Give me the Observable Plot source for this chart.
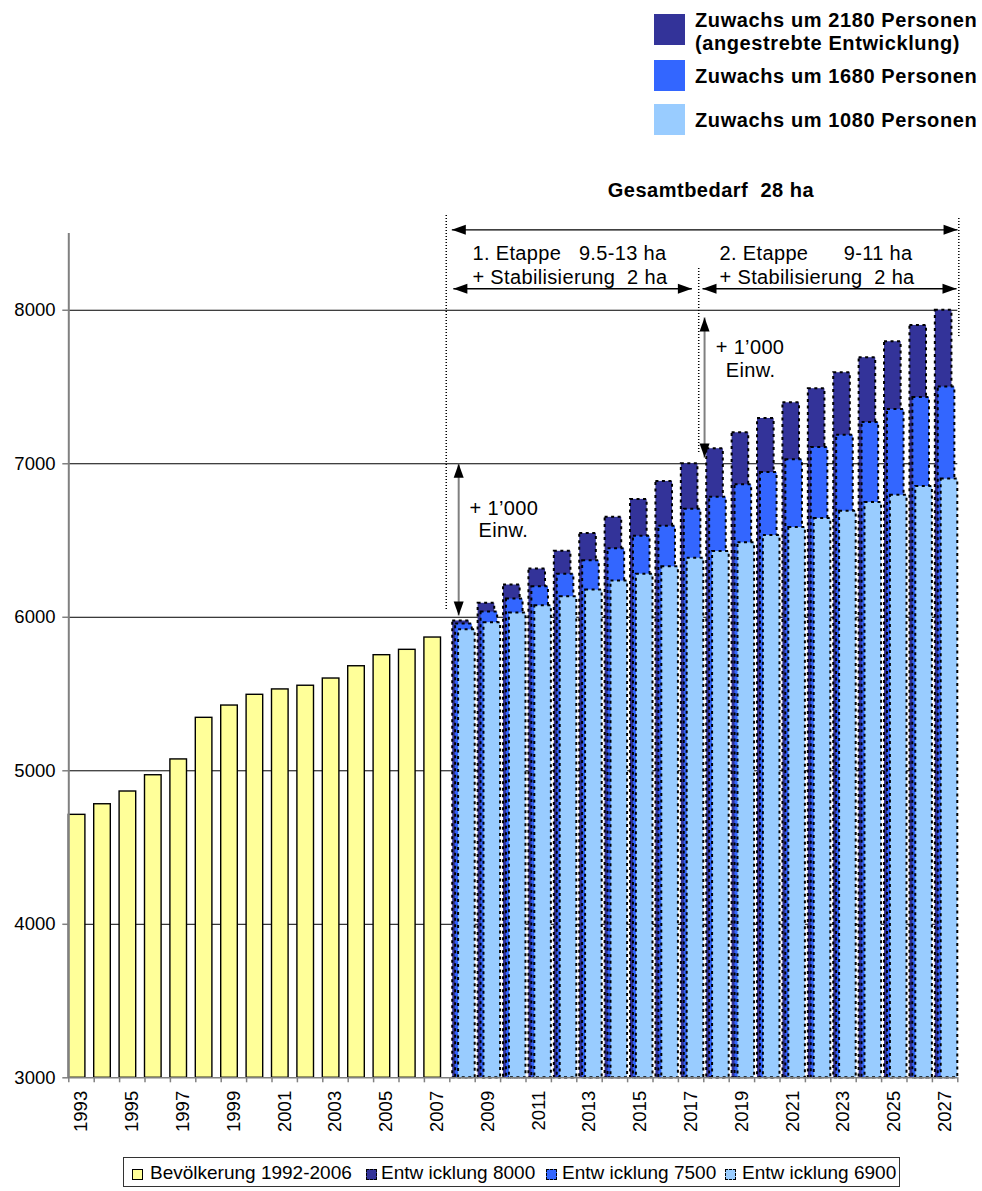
<!DOCTYPE html>
<html>
<head>
<meta charset="utf-8">
<script src="https://cdn.jsdelivr.net/npm/d3@7"></script>
<script src="https://cdn.jsdelivr.net/npm/@observablehq/plot@0.6"></script>
<style>
  body { margin: 0; background: #fff; }
  #wrap { position: relative; width: 982px; height: 1191px; overflow: hidden;
          font-family: "Liberation Sans", Arial, sans-serif; color: #000; }
  #chart { position: absolute; left: 0; top: 0; }
  svg text { white-space: pre; }
  g[aria-description="annot"] text { letter-spacing: 0.35px; }
  g[aria-description="heading"] text { letter-spacing: 0.5px; }
  .tsq { position: absolute; width: 31px; height: 31px; }
  .tlab { position: absolute; left: 695px; font-weight: bold; font-size: 20px; letter-spacing: 0.6px;
          line-height: 23px; white-space: nowrap; }
  #bottomLegend { position: absolute; left: 123px; top: 1157px; width: 777px; height: 30px;
                  border: 1px solid #333; box-sizing: border-box; }
  .bsq { position: absolute; width: 9px; height: 9px; top: 11px; border: 1px solid #000; }
  .blab { position: absolute; top: 4px; font-size: 19px; line-height: 22px; white-space: pre; }
</style>
</head>
<body>
<div id="wrap">
  <div id="chart"></div>
  <div id="topLegend"></div>
  <div id="bottomLegend"></div>
</div>
<script>
// ---------- data ----------
const histYears = [1993, 1994, 1995, 1996, 1997, 1998, 1999, 2000, 2001, 2002, 2003, 2004, 2005, 2006, 2007];
const population = [4713, 4782, 4865, 4971, 5074, 5345, 5425, 5495, 5530, 5554, 5601, 5681, 5753, 5788, 5868];

const projYears = [2008, 2009, 2010, 2011, 2012, 2013, 2014, 2015, 2016, 2017,
                   2018, 2019, 2020, 2021, 2022, 2023, 2024, 2025, 2026, 2027];
const entw8000 = [5976, 6091, 6210, 6314, 6430, 6545, 6651, 6768, 6885, 7000,
                  7098, 7202, 7295, 7397, 7489, 7593, 7691, 7795, 7901, 8000];
const entw7500 = [5956, 6034, 6119, 6199, 6281, 6368, 6446, 6528, 6593, 6703,
                  6782, 6863, 6943, 7026, 7106, 7186, 7269, 7354, 7432, 7500];
const entw6900 = [5918, 5965, 6028, 6075, 6134, 6177, 6236, 6281, 6329, 6385,
                  6429, 6485, 6533, 6585, 6644, 6691, 6748, 6795, 6852, 6900];

const yTicks = [3000, 4000, 5000, 6000, 7000, 8000];
const gridValues = [4000, 5000, 6000, 7000, 8000];
const xTickLabels = [1993, 1995, 1997, 1999, 2001, 2003, 2005, 2007, 2009, 2011,
                     2013, 2015, 2017, 2019, 2021, 2023, 2025, 2027];

const seriesNames = ["Bevölkerung 1992-2006", "Entw icklung 8000", "Entw icklung 7500", "Entw icklung 6900"];
const seriesColors = ["#FFFF99", "#333399", "#3366FF", "#99CCFF"];

const topLegendLabels = [["Zuwachs um 2180 Personen", "(angestrebte Entwicklung)"],
                         ["Zuwachs um 1680 Personen"],
                         ["Zuwachs um 1080 Personen"]];
const topLegendColors = ["#333399", "#3366FF", "#99CCFF"];

// annotations (year / inhabitants coordinates)
const guideLines = [
  {x: 2007.36, top: 8617, bottom: 6044},
  {x: 2017.30, top: 8272, bottom: 7060},
  {x: 2027.54, top: 8598, bottom: 7825}
];
const spanArrows = [
  {from: 2007.58, to: 2027.49, level: 8524},
  {from: 2007.64, to: 2017.03, level: 8140},
  {from: 2017.45, to: 2027.45, level: 8140}
];
const growthArrows = [
  {x: 2007.85, top: 7000, bottom: 6012},
  {x: 2017.53, top: 7953, bottom: 7040}
];
const headings = [{x: 2017.78, y: 8780, text: "Gesamtbedarf  28 ha"}];
const stageLabels = [
  {x: 2008.39, y: 8370, text: "1. Etappe   9.5-13 ha"},
  {x: 2008.39, y: 8213, text: "+ Stabilisierung  2 ha"},
  {x: 2018.12, y: 8370, text: "2. Etappe      9-11 ha"},
  {x: 2018.12, y: 8213, text: "+ Stabilisierung  2 ha"}
];
const growthLabels = [
  {x: 2009.63, y: 6708, text: "+ 1’000"}, {x: 2009.61, y: 6565, text: "Einw."},
  {x: 2019.32, y: 7757, text: "+ 1’000"}, {x: 2019.34, y: 7607, text: "Einw."}
];

// ---------- layout constants ----------
const CAT = 25.4, BAR_W = 16.6, SHIFT = 2.93;
const BASE = yTicks[0];
const allYears = histYears.concat(projYears);
const boundaries = [allYears[0] - 0.5].concat(allYears.map(y => y + 0.5));
const FONT = "'Liberation Sans', Arial, sans-serif";

function bars(years, values, i) {
  const data = years.map((year, k) => ({year, v: values[k], series: seriesNames[i]}));
  return Plot.rectY(data, {
    x1: d => d.year - 0.5, x2: d => d.year + 0.5, y1: d => BASE, y2: "v",
    insetLeft: i * SHIFT, insetRight: Math.max(0, CAT - BAR_W - i * SHIFT),
    fill: seriesColors[i], stroke: "#000",
    strokeWidth: i === 0 ? 1.4 : 2,
    strokeDasharray: i === 0 ? null : "3,3.5"
  });
}

const headSymbol = {draw(ctx) { ctx.moveTo(0, 0); ctx.lineTo(5, 14); ctx.lineTo(-5, 14); ctx.closePath(); }};

const chart = Plot.plot({
  width: 982, height: 1191,
  marginLeft: 68.3, marginRight: 24.7, marginTop: 233, marginBottom: 113.7,
  style: {fontFamily: FONT, background: "transparent", overflow: "visible", color: "#000"},
  x: {type: "linear", domain: [1992.5, 2027.5]},
  y: {domain: [3000, 8500]},
  marks: [
    Plot.ruleY(gridValues, {y: d => d, stroke: "#000", strokeWidth: 1}),
    bars(histYears, population, 0),
    bars(projYears, entw8000, 1),
    bars(projYears, entw7500, 2),
    bars(projYears, entw6900, 3),
    Plot.ruleX([boundaries[0]], {x: d => d, y1: d => BASE, y2: d => 8500, stroke: "#808080", strokeWidth: 2}),
    Plot.ruleY([BASE], {y: d => d, stroke: "#808080", strokeWidth: 1.5}),
    Plot.axisY({ticks: yTicks, tickSize: 0, tickPadding: 13.3, fontSize: 18.5, tickFormat: d => String(d)}),
    Plot.axisY({ticks: yTicks, tickSize: 6, tickFormat: () => "", stroke: "#808080", strokeWidth: 1.5}),
    Plot.axisX({ticks: xTickLabels, tickSize: 0, tickPadding: 13, tickRotate: -90, fontSize: 18.5, tickFormat: d => String(d)}),
    Plot.axisX({ticks: boundaries, tickSize: 5, tickFormat: () => "", stroke: "#808080", strokeWidth: 1.5}),
    // guide lines
    Plot.ruleX(guideLines, {x: "x", y1: "top", y2: "bottom", stroke: "#000", strokeWidth: 1.5, strokeDasharray: "1,2"}),
    // horizontal span arrows
    Plot.link(spanArrows, {x1: "from", x2: "to", y1: "level", y2: "level", stroke: "#000", strokeWidth: 1.3}),
    Plot.dot(spanArrows, {x: "from", y: "level", symbol: headSymbol, rotate: -90, fill: "#000", stroke: "none"}),
    Plot.dot(spanArrows, {x: "to", y: "level", symbol: headSymbol, rotate: 90, fill: "#000", stroke: "none"}),
    // vertical growth arrows
    Plot.link(growthArrows, {x1: "x", x2: "x", y1: "top", y2: "bottom", stroke: "#808080", strokeWidth: 2}),
    Plot.dot(growthArrows, {x: "x", y: "top", symbol: headSymbol, rotate: 0, fill: "#000", stroke: "none"}),
    Plot.dot(growthArrows, {x: "x", y: "bottom", symbol: headSymbol, rotate: 180, fill: "#000", stroke: "none"}),
    // texts
    Plot.text(headings, {x: "x", y: "y", text: "text", fontSize: 20, fontWeight: "bold", textAnchor: "middle", ariaDescription: "heading"}),
    Plot.text(stageLabels, {x: "x", y: "y", text: "text", fontSize: 20, textAnchor: "start", ariaDescription: "annot"}),
    Plot.text(growthLabels, {x: "x", y: "y", text: "text", fontSize: 20, textAnchor: "middle", ariaDescription: "annot"})
  ]
});
document.getElementById("chart").appendChild(chart);

// ---------- top legend ----------
const topLegend = document.getElementById("topLegend");
const sqTops = [14, 60, 104];
const labTops = [[8.5, 31.5], [65], [109]];
topLegendLabels.forEach((lines, i) => {
  const sq = document.createElement("div");
  sq.className = "tsq";
  sq.style.left = "654px";
  sq.style.top = sqTops[i] + "px";
  sq.style.background = topLegendColors[i];
  topLegend.appendChild(sq);
  lines.forEach((t, j) => {
    const lab = document.createElement("div");
    lab.className = "tlab";
    lab.style.top = labTops[i][j] + "px";
    lab.textContent = t;
    topLegend.appendChild(lab);
  });
});

// ---------- bottom legend ----------
const bottomLegend = document.getElementById("bottomLegend");
const sqLeft = [8, 242, 422, 601];
const labLeft = [26, 257, 438, 618];
seriesNames.forEach((name, i) => {
  const sq = document.createElement("div");
  sq.className = "bsq";
  sq.style.left = sqLeft[i] + "px";
  sq.style.background = seriesColors[i];
  if (i > 0) sq.style.borderStyle = "dashed";
  bottomLegend.appendChild(sq);
  const lab = document.createElement("div");
  lab.className = "blab";
  lab.style.left = labLeft[i] + "px";
  lab.textContent = name;
  bottomLegend.appendChild(lab);
});
</script>
</body>
</html>
